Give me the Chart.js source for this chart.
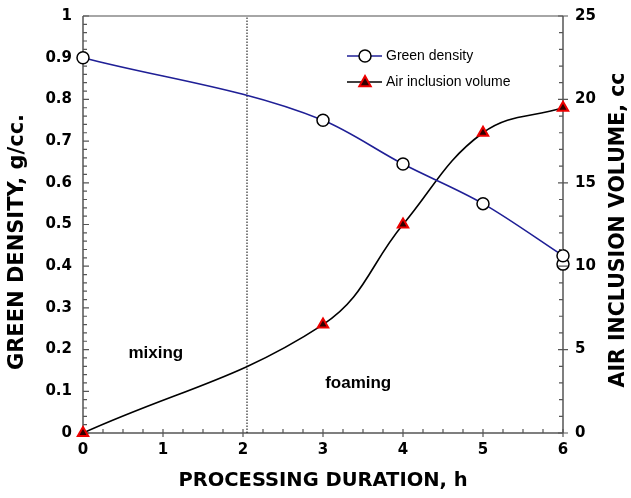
<!DOCTYPE html>
<html><head><meta charset="utf-8">
<script src="https://cdn.jsdelivr.net/npm/chart.js@4/dist/chart.umd.min.js"></script>
<style>html,body{margin:0;padding:0;background:#fff}#wrap{width:631px;height:498px}</style>
</head><body><div id="wrap"><canvas id="c" width="631" height="498"></canvas></div>
<script>
// ---- data ----
const densityDurations = [0, 3, 4, 5, 6];
const greenDensity = [0.90, 0.75, 0.645, 0.55, 0.425];
const extraDensityDurations = [6];
const extraDensity = [0.405];
const airDurations = [0, 3, 4, 5, 6];
const airVolume = [0, 6.5, 12.5, 18.0, 19.5];
const xTickLabels = ['0', '1', '2', '3', '4', '5', '6'];
const leftTickLabels = ['0', '0.1', '0.2', '0.3', '0.4', '0.5', '0.6', '0.7', '0.8', '0.9', '1'];
const rightTickLabels = ['0', '5', '10', '15', '20', '25'];
const phaseBoundary = 2.05;
const phaseLabels = ['mixing', 'foaming'];
const phaseLabelAt = [[0.91, 0.19], [3.44, 0.12]];
const seriesNames = ['Green density', 'Air inclusion volume'];
const axisTitles = ['PROCESSING DURATION, h', 'GREEN DENSITY, g/cc.', 'AIR INCLUSION VOLUME, cc'];

const TITLE_FONT = {family: 'DejaVu Sans', size: 19.5, weight: 'bold', lineHeight: 1};
const TICK_FONT = {family: 'DejaVu Sans', size: 15, weight: 'bold'};
const AXIS_COLOR = '#555';

function drawMarker(ctx, style, x, y) {
  ctx.save();
  if (style === 'circle') {
    ctx.beginPath(); ctx.arc(x, y, 6, 0, Math.PI * 2);
    ctx.fillStyle = '#fff'; ctx.fill();
    ctx.lineWidth = 1.5; ctx.strokeStyle = '#000'; ctx.stroke();
  } else {
    const r = 6;
    ctx.beginPath();
    ctx.moveTo(x, y - r); ctx.lineTo(x + r * 0.95, y + r * 0.7); ctx.lineTo(x - r * 0.95, y + r * 0.7); ctx.closePath();
    ctx.fillStyle = '#300'; ctx.fill();
    ctx.lineWidth = 2; ctx.strokeStyle = '#e00'; ctx.stroke();
  }
  ctx.restore();
}

const axesPlugin = {
  id: 'axesPlugin',
  beforeDatasetsDraw(chart) {
    const {ctx, chartArea: a, scales} = chart;
    ctx.save();
    ctx.strokeStyle = '#888'; ctx.lineWidth = 1.5;
    ctx.beginPath(); ctx.moveTo(a.left, a.top); ctx.lineTo(a.right, a.top); ctx.stroke();
    ctx.strokeStyle = AXIS_COLOR;
    ctx.beginPath();
    ctx.moveTo(a.left, a.top); ctx.lineTo(a.left, a.bottom); ctx.lineTo(a.right, a.bottom);
    ctx.moveTo(a.right, a.top); ctx.lineTo(a.right, a.bottom);
    ctx.stroke();
    ctx.lineWidth = 1.2;
    ctx.beginPath();
    for (let i = 0; i <= 50; i++) {
      const y = scales.y.getPixelForValue(i * 0.02);
      const len = i % 5 === 0 ? 6 : 4;
      ctx.moveTo(a.left, y); ctx.lineTo(a.left + len, y);
    }
    for (let i = 0; i <= 24; i++) {
      const x = scales.x.getPixelForValue(i * 0.25);
      if (i % 4 === 0) { ctx.moveTo(x, a.bottom + 4); ctx.lineTo(x, a.bottom - 4); }
      else { ctx.moveTo(x, a.bottom); ctx.lineTo(x, a.bottom - 4); }
    }
    ctx.stroke();
    ctx.restore();
    ctx.save();
    ctx.font = 'bold 17px "Liberation Sans", Arial, sans-serif';
    ctx.fillStyle = '#000'; ctx.textAlign = 'center'; ctx.textBaseline = 'middle';
    phaseLabels.forEach((t, i) => {
      ctx.fillText(t, scales.x.getPixelForValue(phaseLabelAt[i][0]), scales.y.getPixelForValue(phaseLabelAt[i][1]));
    });
    ctx.restore();
  },
  afterDatasetsDraw(chart) {
    const {ctx, chartArea: a, scales} = chart;
    ctx.save();
    ctx.strokeStyle = AXIS_COLOR; ctx.lineWidth = 1.2;
    ctx.beginPath();
    for (let i = 0; i <= 25; i++) {
      const y = scales.y2.getPixelForValue(i);
      if (i % 5 === 0) { ctx.moveTo(a.right - 5, y); ctx.lineTo(a.right + 5, y); }
      else { ctx.moveTo(a.right - 4, y); ctx.lineTo(a.right, y); }
    }
    ctx.stroke();
    ctx.restore();
    // vertical axis titles (both read bottom-to-top)
    ctx.save();
    ctx.fillStyle = '#000'; ctx.textAlign = 'center'; ctx.textBaseline = 'middle';
    ctx.font = 'bold 21px "DejaVu Sans"';
    ctx.translate(18, 242); ctx.rotate(-Math.PI / 2); ctx.fillText(axisTitles[1], 0, 0);
    ctx.restore();
    ctx.save();
    ctx.fillStyle = '#000'; ctx.textAlign = 'center'; ctx.textBaseline = 'middle';
    ctx.font = 'bold 20.5px "DejaVu Sans"';
    ctx.translate(619, 230); ctx.rotate(-Math.PI / 2); ctx.fillText(axisTitles[2], 0, 0);
    ctx.restore();
    // legend
    const rows = [
      {name: seriesNames[0], color: '#1f1f96', marker: 'circle'},
      {name: seriesNames[1], color: '#000', marker: 'triangle'}
    ];
    ctx.save();
    rows.forEach((r, i) => {
      const y = 56 + i * 26;
      ctx.strokeStyle = r.color; ctx.lineWidth = 1.6;
      ctx.beginPath(); ctx.moveTo(347, y); ctx.lineTo(382, y); ctx.stroke();
      drawMarker(ctx, r.marker, 365, y);
      ctx.font = '14px "Liberation Sans", Arial, sans-serif';
      ctx.fillStyle = '#000'; ctx.textBaseline = 'middle'; ctx.textAlign = 'left';
      ctx.fillText(r.name, 386, y);
    });
    ctx.restore();
  }
};

const toPts = (xs, ys) => xs.map((x, i) => ({x, y: ys[i]}));
const noEdgePad = s => { s.paddingTop = 0; s.paddingBottom = 0; };

new Chart(document.getElementById('c'), {
  type: 'line',
  data: {
    datasets: [
      {
        label: seriesNames[0], data: toPts(densityDurations, greenDensity), yAxisID: 'y',
        borderColor: '#1f1f96', borderWidth: 1.6, cubicInterpolationMode: 'monotone',
        pointStyle: 'circle', pointRadius: 6, pointBackgroundColor: '#fff', pointBorderColor: '#000', pointBorderWidth: 1.5,
        clip: false
      },
      {
        label: '', data: toPts(extraDensityDurations, extraDensity), yAxisID: 'y', showLine: false,
        pointStyle: 'circle', pointRadius: 6, pointBackgroundColor: '#fff', pointBorderColor: '#000', pointBorderWidth: 1.5,
        clip: false
      },
      {
        label: seriesNames[1], data: toPts(airDurations, airVolume), yAxisID: 'y2',
        borderColor: '#000', borderWidth: 1.6, tension: 0.4,
        pointStyle: 'triangle', pointRadius: 6, pointBackgroundColor: '#300', pointBorderColor: '#e00', pointBorderWidth: 2,
        clip: false
      },
      {
        label: '', data: [{x: phaseBoundary, y: 0}, {x: phaseBoundary, y: 1}], yAxisID: 'y',
        borderColor: '#000', borderWidth: 1, borderDash: [1.5, 1.5], pointRadius: 0
      }
    ]
  },
  options: {
    responsive: false, animation: false, devicePixelRatio: 1,
    layout: {padding: {top: 16, left: 0, right: 0, bottom: 0}},
    plugins: {legend: {display: false}, tooltip: {enabled: false}},
    scales: {
      x: {
        type: 'linear', position: 'bottom', min: 0, max: 6,
        grid: {display: false, drawTicks: false}, border: {display: false},
        ticks: {stepSize: 1, padding: 8, color: '#000', font: TICK_FONT, callback: (v, i) => xTickLabels[i]},
        title: {display: true, text: axisTitles[0], color: '#000', font: TITLE_FONT, padding: {top: 0, bottom: 7}},
        afterFit: s => { s.height = 65; }
      },
      y: {
        type: 'linear', position: 'left', min: 0, max: 1,
        grid: {display: false, drawTicks: false}, border: {display: false},
        ticks: {stepSize: 0.1, padding: 11, color: '#000', font: TICK_FONT, callback: (v, i) => leftTickLabels[i]},
        afterFit: s => { s.width = 83; noEdgePad(s); }
      },
      y2: {
        type: 'linear', position: 'right', min: 0, max: 25,
        grid: {display: false, drawTicks: false}, border: {display: false},
        ticks: {stepSize: 5, padding: 12, color: '#000', font: TICK_FONT, callback: (v, i) => rightTickLabels[i]},
        afterFit: s => { s.width = 68; noEdgePad(s); }
      }
    }
  },
  plugins: [axesPlugin]
});
</script>
</body></html>
